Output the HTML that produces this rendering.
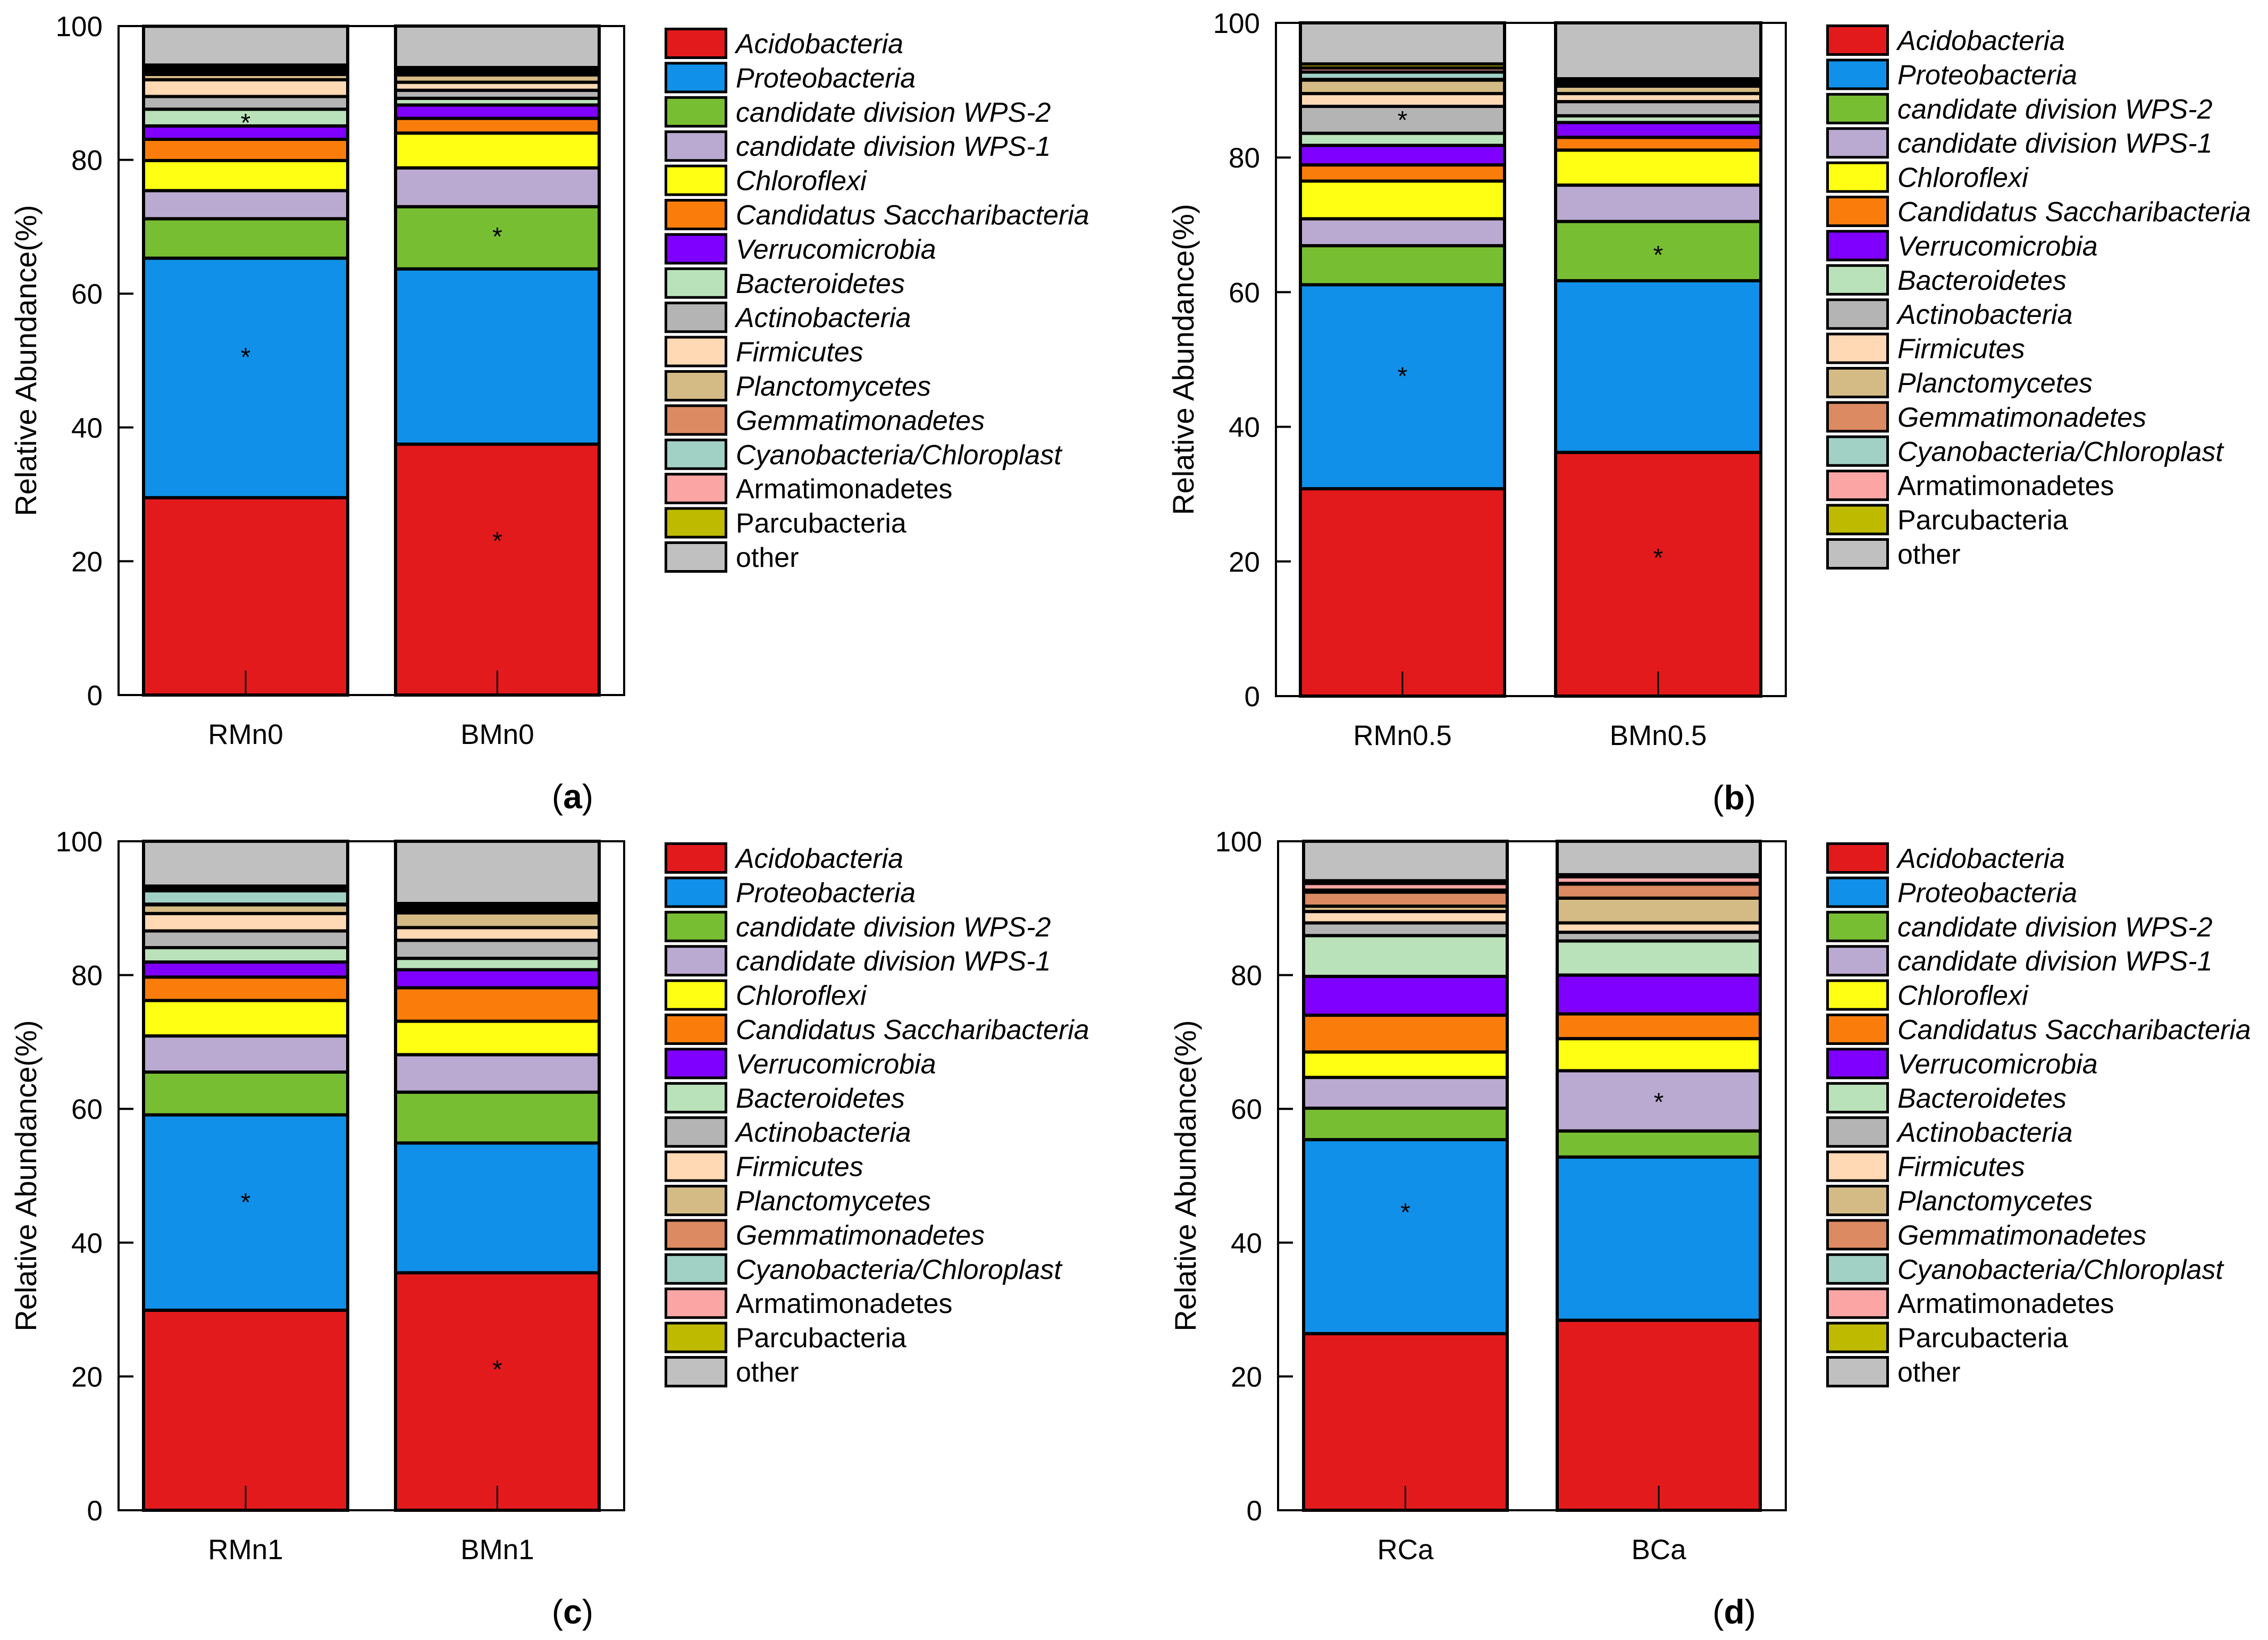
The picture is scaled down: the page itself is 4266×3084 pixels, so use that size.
<!DOCTYPE html>
<html><head><meta charset="utf-8">
<style>
html,body{margin:0;padding:0;background:#fff;}
svg{display:block;}
text{font-family:"Liberation Sans",sans-serif;}
</style></head>
<body>
<svg id="fig" width="4266" height="3084" viewBox="0 0 4266 3084" xmlns="http://www.w3.org/2000/svg"></svg>
<script>
const taxa = ["Acidobacteria","Proteobacteria","candidate division WPS-2","candidate division WPS-1","Chloroflexi","Candidatus Saccharibacteria","Verrucomicrobia","Bacteroidetes","Actinobacteria","Firmicutes","Planctomycetes","Gemmatimonadetes","Cyanobacteria/Chloroplast","Armatimonadetes","Parcubacteria","other"];
const italicFlags = [1,1,1,1,1,1,1,1,1,1,1,1,1,0,0,0];
const colors = ["#E31A1C","#1090E8","#78BE32","#BAA9D0","#FFFF14","#FA7D0B","#7F00FF","#BAE2BA","#B4B4B4","#FFD8B4","#D4BA84","#DB8A61","#A1D0C5","#FBA5A5","#BEBA00","#C0C0C0"];
const yTicks = [0,20,40,60,80,100];

const catsA = ["RMn0","BMn0"];
const valsA_R = [29.5,35.8,5.9,4.2,4.5,3.17,2.0,2.5,1.9,2.5,0.8,0.4,0.4,0.3,0.3,5.8];
const valsA_B = [37.5,26.2,9.3,5.8,5.2,2.2,2.0,1.0,1.2,1.2,1.1,0.3,0.3,0.25,0.25,6.2];
const starsA = [[0,86],[0,51],[1,69],[1,23.5]];

const catsB = ["RMn0.5","BMn0.5"];
const valsB_R = [30.8,30.3,5.8,4.0,5.6,2.4,2.9,1.8,4.0,1.9,2.0,0.1,1.1,0.6,0.6,6.1];
const valsB_B = [36.2,25.5,8.8,5.4,5.2,1.9,2.2,1.0,2.1,1.2,1.1,0.25,0.25,0.2,0.4,8.3];
const starsB = [[0,86],[0,48],[1,66],[1,21]];

const catsC = ["RMn1","BMn1"];
const valsC_R = [29.9,29.2,6.4,5.4,5.3,3.5,2.25,2.15,2.5,2.6,1.3,0.1,2.0,0.35,0.35,6.7];
const valsC_B = [35.5,19.4,7.6,5.6,5.0,5.0,2.7,1.7,2.7,1.9,2.2,0.4,0.4,0.4,0.2,9.3];
const starsC = [[0,46.5],[1,21.5]];

const catsD = ["RCa","BCa"];
const valsD_R = [26.4,29.0,4.7,4.6,3.8,5.5,5.8,6.1,1.9,1.7,0.8,2.1,0.3,1.0,0.4,5.9];
const valsD_B = [28.4,24.4,3.9,9.0,4.8,3.7,5.8,5.1,1.3,1.4,3.7,2.1,0.1,1.0,0.3,5.0];
const starsD = [[0,45],[1,61.5]];

const NS = "http://www.w3.org/2000/svg";
const svg = document.getElementById('fig');
function mk(tag, attrs, parent){
  const e = document.createElementNS(NS, tag);
  for (const k in attrs) e.setAttribute(k, attrs[k]);
  (parent||svg).appendChild(e);
  return e;
}

function panel(cfg){
  const g = mk('g',{});
  
  
  const L=cfg.left, R=cfg.right, T=cfg.top, B=cfg.bottom;
  const y = v => B - (v/100)*(B-T);
  cfg.series.forEach((vals, bi) => {
    const x0 = cfg.barX[bi][0], x1 = cfg.barX[bi][1];
    let cum = 0;
    vals.forEach((v, si) => {
      const r = mk('rect',{x:x0, y:y(cum+v), width:x1-x0, height:Math.max(0,y(cum)-y(cum+v)), fill:colors[si], stroke:'#000','stroke-width':6}, g);
      
      
      cum += v;
    });
    const cx = (x0+x1)/2;
    const tk = mk('line',{x1:cx,x2:cx,y1:B,y2:B-46,stroke:'#000','stroke-width':3}, g);
    
    
    const lab = mk('text',{x:cx, y:B+92, 'font-size':53, 'text-anchor':'middle'}, g);
    lab.textContent = cfg.cats[bi];
    
    
  });
  cfg.stars.forEach(s => {
    const x0 = cfg.barX[s[0]][0], x1 = cfg.barX[s[0]][1];
    const st = mk('text',{x:(x0+x1)/2, y:y(s[1])+22, 'font-size':48, 'text-anchor':'middle'}, g);
    st.textContent = '*';
    
    
  });
  const fr = mk('rect',{x:L,y:T,width:R-L,height:B-T,fill:'none',stroke:'#000','stroke-width':4}, g);
  
  
  yTicks.forEach(t => {
    const ln = mk('line',{x1:L,x2:L+28,y1:y(t),y2:y(t),stroke:'#000','stroke-width':4}, g);
    
    
    const tl = mk('text',{x:L-30, y:y(t)+19, 'font-size':53, 'text-anchor':'end'}, g);
    tl.textContent = t;
    
    
  });
  const cy = (T+B)/2;
  const yt = mk('text',{x:0,y:0,'font-size':56,'text-anchor':'middle',transform:'translate('+(L-155)+','+cy+') rotate(-90)'}, g);
  yt.textContent = 'Relative Abundance(%)';
  
  
  const pl = mk('text',{x:R-97, y:B+213, 'font-size':64, 'text-anchor':'middle', 'font-family':'"Liberation Serif",serif'}, g);
  pl.innerHTML = '(<tspan font-weight="bold">' + cfg.letter + '</tspan>)';
  
  
  const lx = R + 76;
  taxa.forEach((name, i) => {
    const ty = cfg.legTop + i*64.4;
    const sw = mk('rect',{x:lx+2.5, y:ty+2.5, width:113, height:54, fill:colors[i], stroke:'#000','stroke-width':5}, g);
    
    
    const tx = mk('text',{x:lx+134, y:ty+48, 'font-size':52, 'font-style': italicFlags[i] ? 'italic':'normal'}, g);
    tx.textContent = name;
    
    
  });
}

panel({letter:'a', left:223, right:1174, top:49, bottom:1307, barX:[[270,654],[744,1127]], cats:catsA, series:[valsA_R, valsA_B], stars:starsA, legTop:52});
panel({letter:'b', left:2400, right:3359, top:43, bottom:1309, barX:[[2446,2830],[2926,3312]], cats:catsB, series:[valsB_R, valsB_B], stars:starsB, legTop:46});
panel({letter:'c', left:223, right:1174, top:1582, bottom:2840, barX:[[270,654],[744,1127]], cats:catsC, series:[valsC_R, valsC_B], stars:starsC, legTop:1584});
panel({letter:'d', left:2404, right:3359, top:1582, bottom:2840, barX:[[2452,2835],[2929,3311]], cats:catsD, series:[valsD_R, valsD_B], stars:starsD, legTop:1584});
</script>
</body></html>
